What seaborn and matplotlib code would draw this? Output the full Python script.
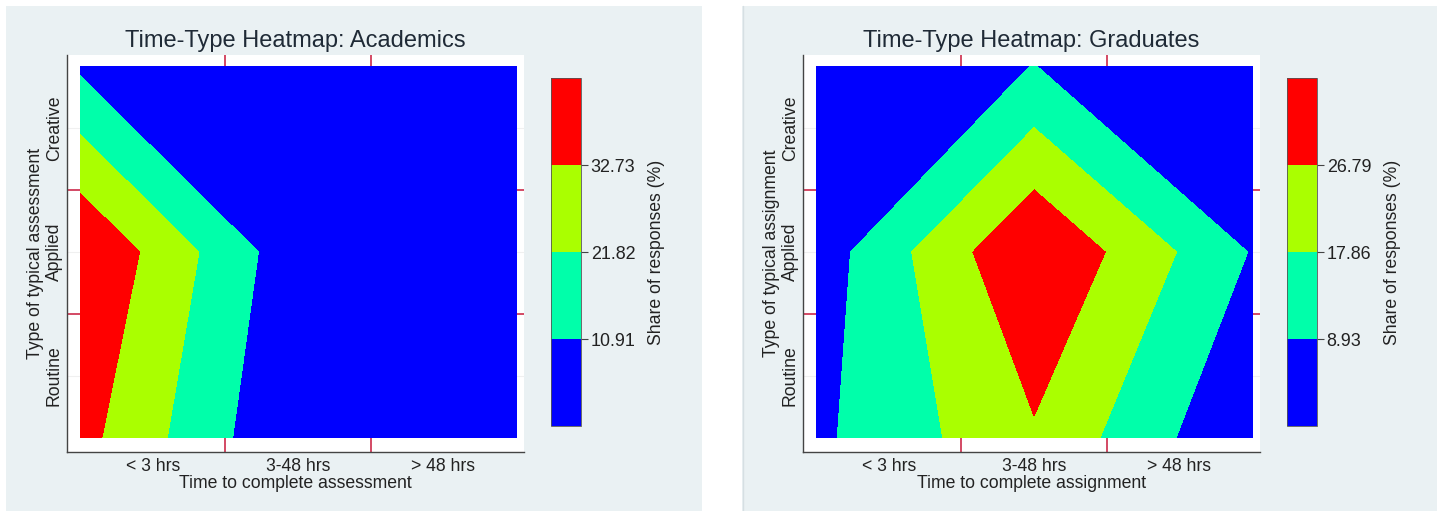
import numpy as np
import matplotlib
matplotlib.use("Agg")
import matplotlib.pyplot as plt
from matplotlib.patches import Rectangle
from matplotlib.lines import Line2D
import seaborn as sns

# categories
time_labels = ["< 3 hrs", "3-48 hrs", "> 48 hrs"]
type_labels = ["Routine", "Applied", "Creative"]

# share of responses (%) - rows: Routine, Applied, Creative / cols: time bands
academics = [[36.36, 0.00, 1.82],
             [43.64, 3.64, 1.82],
             [9.09, 1.82, 1.82]]
graduates = [[7.14, 25.60, 0.00],
             [3.90, 35.71, 8.40],
             [5.36, 9.00, 3.57]]

# contour cut points (as shown on the colour bars)
acad_levels = [0, 10.91, 21.82, 32.73, 43.64]
grad_levels = [0, 8.93, 17.86, 26.79, 35.72]

band_colors = ["#0000ff", "#00ffaa", "#aaff00", "#ff0000"]
line_red = "#cc2a4a"
text_col = "#222222"
bg_col = "#eaf1f3"

sns.set_theme(style="white")
plt.rcParams['font.family'] = ['Liberation Sans', 'DejaVu Sans']

W, H = 1437, 511
fig = plt.figure(figsize=(W / 100, H / 100), dpi=100)
fig.patch.set_facecolor("white")

# light panel backgrounds like the Stata graph regions
fig.add_artist(Rectangle((6 / W, 0), 696 / W, 505 / H, transform=fig.transFigure,
                         facecolor=bg_col, edgecolor="none", zorder=-10))
fig.add_artist(Rectangle((742 / W, 0), 695 / W, 505 / H, transform=fig.transFigure,
                         facecolor=bg_col, edgecolor="none", zorder=-10))
fig.add_artist(Line2D([742.5 / W, 742.5 / W], [0, 505 / H], transform=fig.transFigure,
                      color="#d6dfe3", lw=1, zorder=-9))


def draw_panel(left_px, cb_px, values, levels, title, xlab, ylab):
    ax = fig.add_axes([left_px / W, 59 / H, 457 / W, 397 / H])
    cax = fig.add_axes([cb_px / W, 85 / H, 30 / W, 348 / H])
    ax.set_facecolor("white")

    nodes = np.linspace(0, 3, 3)
    cs = ax.contourf(nodes, nodes, np.array(values), levels=levels,
                     colors=band_colors, zorder=2)

    # red category boundaries (only visible in the margins)
    for b in [1, 2]:
        ax.axvline(b, color=line_red, lw=1.2, zorder=1)
        ax.axhline(b, color=line_red, lw=1.2, zorder=1)

    ax.set_xlim(-0.09, 3.055)
    ax.set_ylim(-0.113, 3.089)
    ax.set_xticks([0.5, 1.5, 2.5])
    ax.set_xticklabels(time_labels)
    ax.set_yticks([0.5, 1.5, 2.5])
    ax.set_yticklabels(type_labels, rotation=90, va="center")
    ax.set_axisbelow(True)
    ax.yaxis.grid(True, color="#f0f0f0", lw=0.8)
    ax.xaxis.grid(False)
    ax.tick_params(axis="both", length=0, labelsize=12.7, labelcolor=text_col, pad=4)
    ax.tick_params(axis="y", pad=3)
    sns.despine(ax=ax)
    for s in ["left", "bottom"]:
        ax.spines[s].set_color("#444444")
        ax.spines[s].set_linewidth(1.0)

    ax.set_xlabel(xlab, fontsize=12.7, color=text_col, labelpad=0)
    ax.set_ylabel(ylab, fontsize=12.7, color=text_col, labelpad=1)
    ax.set_title(title, fontsize=17, color="#1f2a36", pad=6)

    cb = fig.colorbar(cs, cax=cax, ticks=levels[1:4])
    cb.ax.set_yticklabels([f"{v:.2f}" for v in levels[1:4]])
    cb.ax.yaxis.set_ticks_position("right")
    cb.ax.tick_params(right=True, length=5, width=0.8, color="#444444",
                      labelsize=12.9, labelcolor=text_col, pad=2)
    cb.outline.set_linewidth(0.6)
    cb.outline.set_edgecolor("#555555")
    cb.set_label("Share of responses (%)", fontsize=12.7, color=text_col, labelpad=9)
    return ax


draw_panel(67, 551, academics, acad_levels, "Time-Type Heatmap: Academics",
           "Time to complete assessment", "Type of typical assessment")
draw_panel(803, 1287, graduates, grad_levels, "Time-Type Heatmap: Graduates",
           "Time to complete assignment", "Type of typical assignment")

fig.savefig("out.png", dpi=100, facecolor=fig.get_facecolor())
